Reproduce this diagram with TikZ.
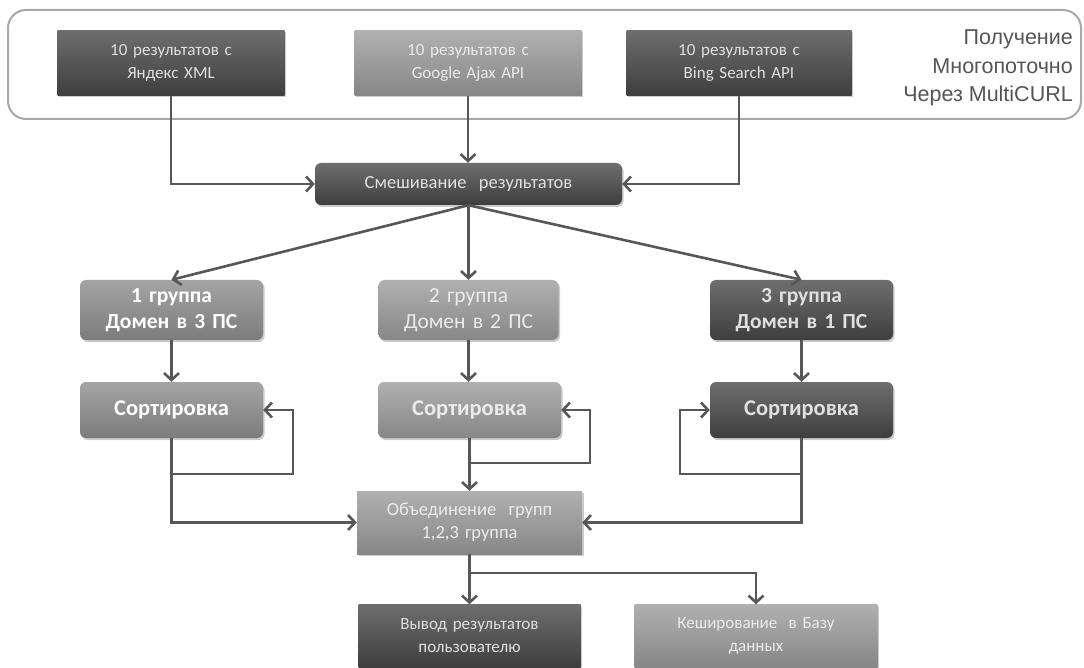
\documentclass[tikz,border=0pt]{standalone}
\usepackage{fontspec}
\setmainfont{Carlito}
\newfontfamily\arialf{Liberation Sans}
\usetikzlibrary{arrows.meta,shadows,calc}
\definecolor{linec}{HTML}{575757}
\definecolor{darkT}{HTML}{6E6E6E}
\definecolor{darkB}{HTML}{3E3E3E}
\definecolor{midT}{HTML}{A4A4A4}
\definecolor{midB}{HTML}{7C7C7C}
\definecolor{liteT}{HTML}{B0B0B0}
\definecolor{liteB}{HTML}{878787}
\definecolor{framec}{HTML}{A8A8A8}
\definecolor{sidetext}{HTML}{555555}
\tikzset{
  box/.style={draw=none, inner sep=0pt, align=center, font=\fontsize{17}{23}\selectfont,
    drop shadow={shadow xshift=1.5pt, shadow yshift=-2pt, fill=black!45, opacity=0.45}},
  darkbox/.style={box, top color=darkT, bottom color=darkB, text=white!88!black},
  midbox/.style={box, top color=midT, bottom color=midB, text=white},
  litebox/.style={box, top color=liteT, bottom color=liteB, text=white!92!black},
  rnd/.style={rounded corners=6pt},
  midf/.style={font=\fontsize{18.5}{23}\selectfont},
  big/.style={font=\fontsize{21.5}{26}\selectfont},
  bigb/.style={font=\bfseries\fontsize{21.5}{26}\selectfont},
  sortf/.style={font=\bfseries\fontsize{22.5}{26}\selectfont},
  arr/.style={draw=linec, line width=2.6pt, -{Straight Barb[length=7pt,width=15pt]}},
}
\begin{document}
\begin{tikzpicture}[x=1pt,y=-1pt]
\useasboundingbox (0,0) rectangle (1084,668);
% frame
\node[draw=framec, line width=2pt, rounded corners=18pt, minimum width=1073pt, minimum height=109pt, inner sep=0pt] (frame) at (544.5,64.5) {};
% top boxes
\node[darkbox, minimum width=227pt, minimum height=65pt, text width=227pt] (yandex) at (171,63) {10 результатов с\\Яндекс XML};
\node[litebox, minimum width=227pt, minimum height=65pt, text width=227pt] (google) at (468,63) {10 результатов с\\Google Ajax API};
\node[darkbox, minimum width=225pt, minimum height=65pt, text width=225pt] (bing) at (739,63) {10 результатов с\\Bing Search API};
\node[anchor=east, align=right, inner sep=0pt, text=sidetext, font=\arialf\fontsize{21.5}{28.5}\selectfont] (side) at (1073,68) {Получение\\Многопоточно\\Через MultiCURL};
% mixing
\node[darkbox, rnd, midf, minimum width=307pt, minimum height=42pt, text width=307pt] (smesh) at (468.5,184) {Смешивание\ \ результатов};
% groups
\node[midbox, rnd, bigb, minimum width=183pt, minimum height=60pt, text width=183pt] (g1) at (171.5,310) {1 группа\\Домен в 3 ПС};
\node[litebox, rnd, big, minimum width=180pt, minimum height=60pt, text width=180pt] (g2) at (468.5,310) {2 группа\\Домен в 2 ПС};
\node[darkbox, rnd, bigb, minimum width=183pt, minimum height=60pt, text width=183pt] (g3) at (801.5,310) {3 группа\\Домен в 1 ПС};
% sorting
\node[midbox, rnd, sortf, minimum width=183pt, minimum height=56pt, text width=183pt] (s1) at (171.5,410) {Сортировка};
\node[litebox, rnd, sortf, minimum width=183pt, minimum height=56pt, text width=183pt] (s2) at (469.5,410) {Сортировка};
\node[darkbox, rnd, sortf, minimum width=183pt, minimum height=56pt, text width=183pt] (s3) at (801.5,410) {Сортировка};
% union
\node[litebox, midf, minimum width=225pt, minimum height=63pt, text width=225pt] (ob) at (469.5,522.5) {Объединение\ \ групп\\1,2,3 группа};
% outputs
\node[darkbox, minimum width=222pt, minimum height=63pt, text width=222pt] (vyvod) at (469.5,636) {Вывод результатов\\пользователю};
\node[litebox, minimum width=243pt, minimum height=63pt, text width=243pt] (kesh) at (756,636) {Кеширование\ \ в Базу\\данных};
% coordinates
\coordinate (l1) at (293,474);
\coordinate (l2) at (590,463);
\coordinate (l3) at (680,474);
\coordinate (split) at (469.5,573);
% connectors top
\draw[arr] (yandex.south) |- (smesh.west);
\draw[arr] (google.south) -- (google.south |- smesh.north);
\draw[arr] (bing.south) |- (smesh.east);
\draw[arr] (smesh.south) -- (g1.north);
\draw[arr] (smesh.south) -- (g2.north);
\draw[arr] (smesh.south) -- (g3.north);
\draw[arr] (g1.south) -- (s1.north);
\draw[arr] (g2.south) -- (g2.south |- s2.north);
\draw[arr] (g3.south) -- (s3.north);
% sorting loops
\draw[arr] (s1.south |- l1) -- (l1) |- (s1.east);
\draw[arr] (s2.south |- l2) -- (l2) |- (s2.east);
\draw[arr] (s3.south |- l3) -- (l3) |- (s3.west);
% into union
\draw[arr] (s1.south) |- (ob.west);
\draw[arr] (s2.south) -- (ob.north);
\draw[arr] (s3.south) |- (ob.east);
% outputs
\draw[arr] (ob.south) -- (vyvod.north);
\draw[arr] (split) -| (kesh.north);
\end{tikzpicture}
\end{document}
